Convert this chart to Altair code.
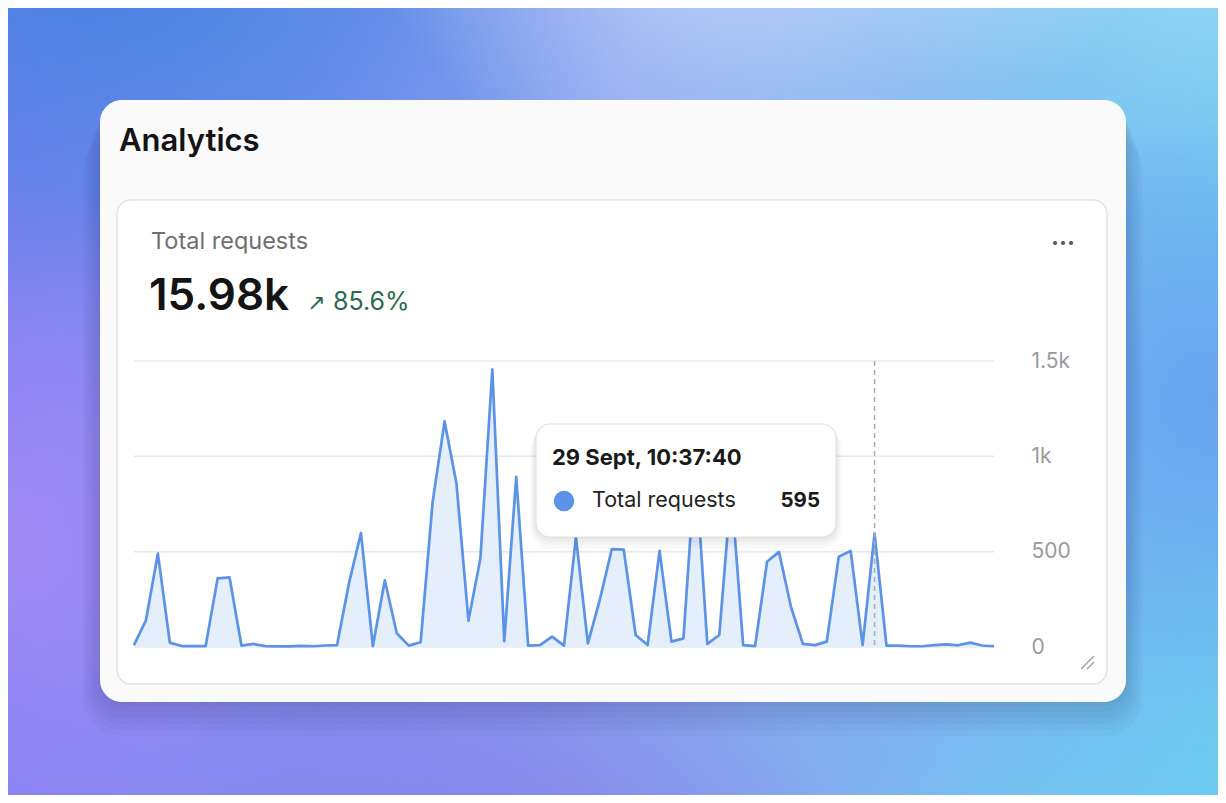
import altair as alt
import pandas as pd

# ---- data -------------------------------------------------------------
REQUESTS = [10, 140, 490, 23, 5, 5, 5, 360, 365, 7, 16, 5, 3, 3, 6, 4, 8, 10,
            335, 598, 5, 350, 72, 7, 25, 760, 1183, 857, 138, 464, 1455, 31,
            892, 7, 10, 54, 7, 575, 19, 248, 513, 511, 63, 10, 504, 28, 45,
            960, 16, 63, 830, 10, 5, 447, 499, 211, 16, 10, 28, 473, 504, 10,
            595, 7, 7, 4, 4, 10, 14, 9, 23, 8, 4]
STEP = list(range(len(REQUESTS)))
Y_TICKS = [0, 500, 1000, 1500]
HOVER_STEP = 62
HOVER_LABEL = "29 Sept, 10:37:40"
SERIES_NAME = "Total requests"
TOTAL_LABEL = "15.98k"
CHANGE_LABEL = "85.6%"
CARD_TITLE = "Analytics"

df = pd.DataFrame({"step": STEP, "requests": REQUESTS})
grid_df = pd.DataFrame({"v": Y_TICKS})
hover_df = pd.DataFrame({"step": [HOVER_STEP], "top": [max(Y_TICKS)], "bottom": [0]})
one = pd.DataFrame({"a": [0]})

W, H = 1210, 787
FONT = "Inter, 'DejaVu Sans', sans-serif"
LINE_COLOR = "#5b93e6"

xs = alt.Scale(domain=[0, len(REQUESTS) - 1], range=[126, 986], nice=False, zero=False)
ys = alt.Scale(domain=[0, 1500], range=[639, 353], nice=False)


def box(x1, y1, x2, y2, **kw):
    return alt.Chart(one).mark_rect(**kw).encode(
        x=alt.value(x1), x2=alt.value(x2), y=alt.value(y1), y2=alt.value(y2))


def txt(s, x, y, **kw):
    kw.setdefault("font", FONT)
    kw.setdefault("baseline", "middle")
    return alt.Chart(one).mark_text(text=s, **kw).encode(
        x=alt.value(x), y=alt.value(y))


def radial(cx, cy, r, color_in, color_out):
    return {"gradient": "radial", "x1": cx, "y1": cy, "r1": 0, "x2": cx, "y2": cy, "r2": r,
            "stops": [{"offset": 0, "color": color_in}, {"offset": 1, "color": color_out}]}


layers = []
# background gradient
layers.append(box(0, 0, W, H, fill={"gradient": "linear", "x1": 0, "y1": 0, "x2": 1, "y2": 0,
                                      "stops": [{"offset": 0, "color": "#7f7ff0"},
                                                {"offset": 0.5, "color": "#8ea6f0"},
                                                {"offset": 1, "color": "#6fc4f0"}]}))
layers.append(box(0, 0, W, H, fill=radial(0.1, 0.05, 0.45, "rgba(55,132,222,0.97)", "rgba(55,132,222,0)")))
layers.append(box(0, 0, W, H, fill=radial(0.62, 0.0, 0.35, "rgba(214,228,250,0.95)", "rgba(214,228,250,0)")))
layers.append(box(0, 0, W, H, fill=radial(1.0, 0.0, 0.35, "rgba(170,228,246,0.95)", "rgba(170,228,246,0)")))
layers.append(box(0, 0, W, H, fill=radial(0.0, 0.62, 0.3, "rgba(165,140,245,0.9)", "rgba(165,140,245,0)")))
layers.append(box(0, 0, W, H, fill=radial(0.4, 1.0, 0.35, "rgba(125,105,228,0.8)", "rgba(125,105,228,0)")))
layers.append(box(0, 0, W, H, fill=radial(1.0, 1.0, 0.35, "rgba(105,210,240,0.9)", "rgba(105,210,240,0)")))
layers.append(box(0, 0, W, H, fill=radial(1.0, 0.5, 0.25, "rgba(100,150,240,0.7)", "rgba(100,150,240,0)")))

# card shadow
for i in range(6):
    d = 4 + i * 6
    layers.append(box(92 - d / 2, 92 + d, 1118 + d / 2, 694 + d, fill="#1b1f5e",
                      opacity=0.03, cornerRadius=22 + d / 2))

# outer card
layers.append(box(92, 92, 1118, 694, fill="#fafafa", cornerRadius=22))
layers.append(txt(CARD_TITLE, 111, 134, fontSize=31, fontWeight=600, color="#141414", align="left"))

# inner card
layers.append(box(109, 192, 1099, 676, fill="#ffffff", stroke="#e4e4e4", strokeWidth=1.5, cornerRadius=14))
layers.append(txt(SERIES_NAME, 143, 234, fontSize=23.5, color="#6f6f6f", align="left"))
layers.append(txt(TOTAL_LABEL, 141, 289, fontSize=44, fontWeight=600, color="#141414", align="left"))
layers.append(txt("↗", 299, 295, fontSize=22, color="#2c6a4e", align="left",
                  font="'DejaVu Sans', sans-serif"))
layers.append(txt(CHANGE_LABEL, 325, 294, fontSize=25, color="#2c6a4e", align="left"))
layers.append(txt("···", 1055, 236, fontSize=24, fontWeight=700, color="#5a5a5a", align="center"))

# grid + right axis
grid = alt.Chart(grid_df).mark_rule(color="#e8e8e8", strokeWidth=1.5).encode(
    x=alt.value(126), x2=alt.value(986),
    y=alt.Y("v:Q", scale=ys,
            axis=alt.Axis(orient="right", offset=-187, values=Y_TICKS,
                          labelExpr="datum.value >= 1000 ? format(datum.value / 1000, '~g') + 'k' : format(datum.value, 'd')",
                          ticks=False, tickSize=0, domain=False, grid=False, labelPadding=0,
                          labelFontSize=21, labelColor="#9a9a9a", labelFont=FONT,
                          labelBaseline="middle", title=None, zindex=2)))
layers.append(grid)

area = alt.Chart(df).mark_area(color="#e4edfb", opacity=0.95).encode(
    x=alt.X("step:Q", scale=xs, axis=None),
    y=alt.Y("requests:Q", scale=ys))
line = alt.Chart(df).mark_line(color=LINE_COLOR, strokeWidth=2.7, strokeJoin="round").encode(
    x=alt.X("step:Q", scale=xs, axis=None),
    y=alt.Y("requests:Q", scale=ys))
layers += [area, line]

hover = alt.Chart(hover_df).mark_rule(color="#ababab", strokeWidth=1.5, strokeDash=[5, 4]).encode(
    x=alt.X("step:Q", scale=xs, axis=None),
    y=alt.Y("top:Q", scale=ys), y2="bottom:Q")
layers.append(hover)

# tooltip
for i in range(4):
    d = 2 + i * 3
    layers.append(box(528 - d / 2, 416 + d / 2, 828 + d / 2, 529 + d, fill="#000000",
                      opacity=0.025, cornerRadius=14 + d / 2))
layers.append(box(528, 416, 828, 529, fill="#ffffff", stroke="#e2e2e2", strokeWidth=1.2, cornerRadius=14))
layers.append(txt(HOVER_LABEL, 544, 450, fontSize=22, fontWeight=700, color="#1a1a1a", align="left"))
layers.append(alt.Chart(one).mark_point(filled=True, size=420, color=LINE_COLOR, opacity=1).encode(
    x=alt.value(556), y=alt.value(493)))
layers.append(txt(SERIES_NAME, 584, 493, fontSize=21.5, color="#1f1f1f", align="left"))
value_txt = alt.Chart(hover_df.assign(val=[REQUESTS[HOVER_STEP]])).mark_text(
    font=FONT, fontSize=20.5, fontWeight=700, color="#1a1a1a", align="right", baseline="middle").encode(
    x=alt.value(812), y=alt.value(493), text="val:Q")
layers.append(value_txt)

# resize handle
layers.append(alt.Chart(one).mark_rule(color="#9a9a9a", strokeWidth=1.3).encode(
    x=alt.value(1073), x2=alt.value(1086), y=alt.value(661), y2=alt.value(648)))
layers.append(alt.Chart(one).mark_rule(color="#9a9a9a", strokeWidth=1.3).encode(
    x=alt.value(1079), x2=alt.value(1086), y=alt.value(661), y2=alt.value(654)))

chart = alt.layer(*layers).properties(
    width=W, height=H, autosize=alt.AutoSizeParams(type="none"), padding=0,
    background="#7f90ea"
).configure_view(stroke=None)

chart.save("out.html", embed_options={"renderer": "svg", "actions": False})
